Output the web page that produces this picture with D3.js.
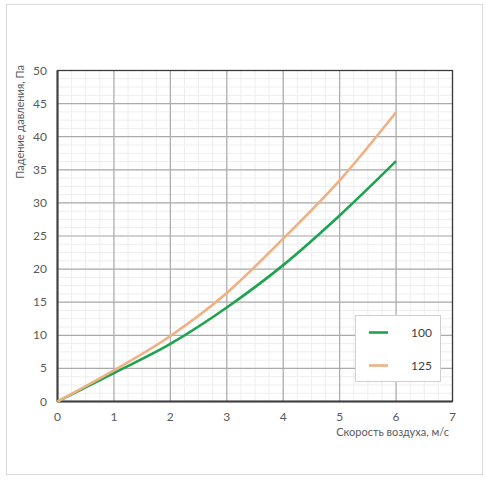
<!DOCTYPE html>
<html>
<head>
<meta charset="utf-8">
<script src="https://cdn.jsdelivr.net/npm/d3@7"></script>
<style>
  body { margin: 0; background: #fff; }
  text { font-family: Lato, "Open Sans", sans-serif; }
</style>
</head>
<body>
<svg width="486" height="480"></svg>
<script>
var speeds = [0, 1, 2, 3, 4, 5, 6];
var drop100 = [0, 4.3, 8.7, 14.2, 20.6, 28.1, 36.3];
var drop125 = [0, 4.7, 9.9, 16.4, 24.6, 33.4, 43.7];
var seriesNames = ["100", "125"];
var seriesColors = ["#1ea351", "#efb083"];
var xTicks = [0, 1, 2, 3, 4, 5, 6, 7];
var yTicks = [0, 5, 10, 15, 20, 25, 30, 35, 40, 45, 50];

var svg = d3.select("svg"),
    width = +svg.attr("width"),
    height = +svg.attr("height");

// outer frame
svg.append("rect")
    .attr("x", 6.5).attr("y", 4.5)
    .attr("width", 476).attr("height", 470)
    .attr("fill", "#fff")
    .attr("stroke", "#dadada");

var x = d3.scaleLinear().domain([0, 7]).range([57.5, 452.5]);
var y = d3.scaleLinear().domain([0, 50]).range([401.5, 70.5]);

var grid = svg.append("g");

// minor grid, 4 per major
var xMinor = d3.range(0, 7.001, 0.25),
    yMinor = d3.range(0, 50.001, 1.25);
grid.selectAll("line.xm").data(xMinor).enter().append("line")
    .attr("x1", function(d) { return x(d); }).attr("x2", function(d) { return x(d); })
    .attr("y1", y(0)).attr("y2", y(50))
    .attr("stroke", "#eeeeee").attr("stroke-width", 1);
grid.selectAll("line.ym").data(yMinor).enter().append("line")
    .attr("y1", function(d) { return y(d); }).attr("y2", function(d) { return y(d); })
    .attr("x1", x(0)).attr("x2", x(7))
    .attr("stroke", "#eeeeee").attr("stroke-width", 1);

// major grid
grid.selectAll("line.xM").data(xTicks).enter().append("line")
    .attr("x1", function(d) { return x(d); }).attr("x2", function(d) { return x(d); })
    .attr("y1", y(0)).attr("y2", y(50))
    .attr("stroke", "#ababab").attr("stroke-width", 1.2);
grid.selectAll("line.yM").data(yTicks).enter().append("line")
    .attr("y1", function(d) { return y(d); }).attr("y2", function(d) { return y(d); })
    .attr("x1", x(0)).attr("x2", x(7))
    .attr("stroke", "#ababab").attr("stroke-width", 1.2);

// plot border
svg.append("rect")
    .attr("x", x(0)).attr("y", y(50))
    .attr("width", x(7) - x(0)).attr("height", y(0) - y(50))
    .attr("fill", "none").attr("stroke", "#3c3c3c").attr("stroke-width", 1.3);
svg.append("line")
    .attr("x1", x(0)).attr("x2", x(7)).attr("y1", y(0)).attr("y2", y(0))
    .attr("stroke", "#404040").attr("stroke-width", 2.2);
svg.append("line")
    .attr("x1", x(0)).attr("x2", x(0)).attr("y1", y(0)).attr("y2", y(50))
    .attr("stroke", "#404040").attr("stroke-width", 2);

// tick labels
svg.selectAll("text.xt").data(xTicks).enter().append("text")
    .attr("x", function(d) { return x(d); }).attr("y", 421)
    .attr("text-anchor", "middle").attr("font-size", 12).attr("fill", "#595959")
    .text(function(d) { return d; });
svg.selectAll("text.yt").data(yTicks).enter().append("text")
    .attr("x", 47).attr("y", function(d) { return y(d) + 4; })
    .attr("text-anchor", "end").attr("font-size", 12).attr("fill", "#595959")
    .text(function(d) { return d; });

// axis titles
svg.append("text")
    .attr("x", 449).attr("y", 436)
    .attr("text-anchor", "end").attr("font-size", 11).attr("fill", "#595959")
    .text("Скорость воздуха, м/с");
svg.append("text")
    .attr("transform", "translate(24,65) rotate(-90)")
    .attr("text-anchor", "end").attr("font-size", 11).attr("fill", "#595959")
    .text("Падение давления, Па");

// series
var series = [drop100, drop125];
var line = d3.line()
    .x(function(d, i) { return x(speeds[i]); })
    .y(function(d) { return y(d); })
    .curve(d3.curveMonotoneX);

svg.selectAll("path.s").data(series).enter().append("path")
    .attr("d", line)
    .attr("fill", "none")
    .attr("stroke", function(d, i) { return seriesColors[i]; })
    .attr("stroke-width", 2.6);

// legend
var lg = svg.append("g");
lg.append("rect")
    .attr("x", 355.5).attr("y", 315.5).attr("width", 85).attr("height", 66)
    .attr("fill", "#fff").attr("stroke", "#d0d0d0");
var items = lg.selectAll("g").data(seriesNames).enter().append("g")
    .attr("transform", function(d, i) { return "translate(0," + (332.5 + i * 33) + ")"; });
items.append("line")
    .attr("x1", 369).attr("x2", 388).attr("y1", 0).attr("y2", 0)
    .attr("stroke", function(d, i) { return seriesColors[i]; })
    .attr("stroke-width", 2.6);
items.append("text")
    .attr("x", 411).attr("y", 4)
    .attr("font-size", 12).attr("fill", "#404040")
    .text(function(d) { return d; });
</script>
</body>
</html>
